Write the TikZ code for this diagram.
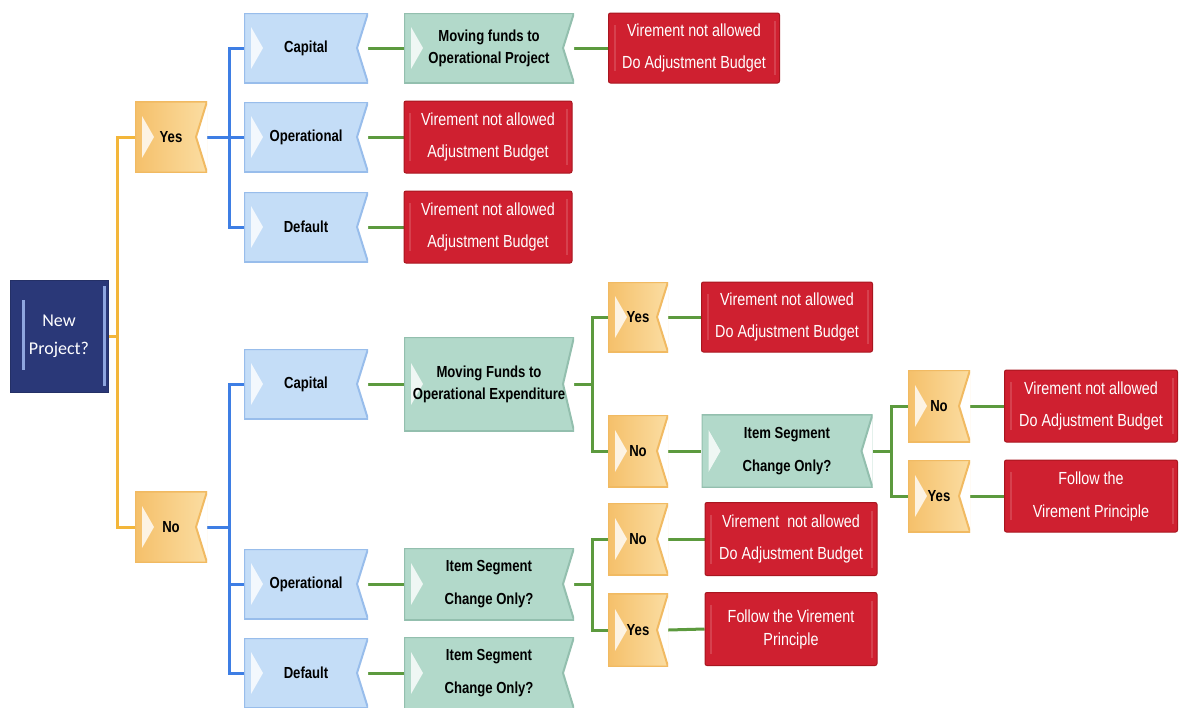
\documentclass[tikz,border=0pt]{standalone}
\usepackage{fontspec}
\setmainfont{Liberation Sans}
\newfontfamily\nf[FakeStretch=0.82]{Liberation Sans}
\newfontfamily\cf{Carlito}
\usetikzlibrary{calc,backgrounds}
\definecolor{navy}{HTML}{2A3878}
\definecolor{navyline}{HTML}{8EA6DF}
\definecolor{ofill}{HTML}{F8CB80}
\definecolor{ofillL}{HTML}{F5C06A}
\definecolor{ofillR}{HTML}{FBDDA2}
\definecolor{oline}{HTML}{F1BA62}
\definecolor{bfill}{HTML}{C4DDF7}
\definecolor{bline}{HTML}{98BDEB}
\definecolor{gfill}{HTML}{B2D9CA}
\definecolor{gline}{HTML}{93BFAE}
\definecolor{rfill}{HTML}{CF2030}
\definecolor{rline}{HTML}{A8161F}
\definecolor{cy}{HTML}{F3B63A}
\definecolor{cb}{HTML}{3E7EE4}
\definecolor{cg}{HTML}{5C9A3E}
\tikzset{
 tagshape/.style={rectangle, inner sep=0, align=center, text=black,
   font=\nf\bfseries\fontsize{16}{33}\selectfont,
   path picture={
     \fill[white] (path picture bounding box.north east) -- ([xshift=-11pt]path picture bounding box.east) -- (path picture bounding box.south east) -- cycle;
     \draw[tagline, line width=2] (path picture bounding box.north west) -- (path picture bounding box.north east) -- ([xshift=-11pt]path picture bounding box.east) -- (path picture bounding box.south east) -- (path picture bounding box.south west) -- cycle;
     \fill[white, opacity=.8] ([xshift=7pt,yshift=21pt]path picture bounding box.west) -- ([xshift=19pt]path picture bounding box.west) -- ([xshift=7pt,yshift=-21pt]path picture bounding box.west) -- cycle;
   }},
 otag/.style={tagshape, left color=ofillL, right color=ofillR, tagline/.style={draw=oline}, minimum width=62, minimum height=71},
 btag/.style={tagshape, fill=bfill, tagline/.style={draw=bline}, minimum width=124, minimum height=70},
 gtag/.style={tagshape, fill=gfill, tagline/.style={draw=gline}, minimum width=170, minimum height=72},
 lead/.style={font=\nf\bfseries\fontsize{16}{#1}\selectfont},
 redbox/.style={rectangle, rounded corners=2, fill=rfill, draw=rline, line width=1,
   text=white, align=center, inner sep=0, minimum width=171, minimum height=72,
   font=\nf\fontsize{17.5}{32}\selectfont,
   path picture={
     \draw[white, opacity=.15, line width=2] ([xshift=6pt,yshift=-12pt]path picture bounding box.north west) -- ([xshift=6pt,yshift=12pt]path picture bounding box.south west);
     \draw[white, opacity=.15, line width=2] ([xshift=-5pt,yshift=-8pt]path picture bounding box.north east) -- ([xshift=-5pt,yshift=8pt]path picture bounding box.south east);
   }},
 npbox/.style={rectangle, fill=navy, draw=navy!85!black, line width=1, minimum width=98,
   minimum height=112, text=white, align=center, inner sep=0,
   font=\cf\fontsize{18}{28}\selectfont,
   path picture={
     \draw[navyline, line width=3] ([xshift=13pt,yshift=-20pt]path picture bounding box.north west) -- ([xshift=13pt,yshift=22pt]path picture bounding box.south west);
     \draw[navyline, line width=3] ([xshift=-4pt,yshift=-6pt]path picture bounding box.north east) -- ([xshift=-4pt,yshift=6pt]path picture bounding box.south east);
   }},
 conn/.style={line width=3, line cap=butt},
}
\begin{document}
\begin{tikzpicture}[x=1pt,y=-1pt]
\useasboundingbox (0,0) rectangle (1186,707);
% root and first level
\node[npbox] (np) at (59,336) {New\\Project?};
\node[otag, minimum width=72] (y1) at (171,137) {Yes};
\node[otag, minimum width=72] (n1) at (171,527) {No};
% blue column
\node[btag] (b1) at (306,48) {Capital};
\node[btag] (b2) at (306,137) {Operational};
\node[btag] (b3) at (306,227) {Default};
\node[btag] (b4) at (306,384) {Capital};
\node[btag] (b5) at (306,584) {Operational};
\node[btag] (b6) at (306,673) {Default};
% green / red column
\node[gtag, minimum height=70, lead=22] (g1) at (489,48) {Moving funds to\\Operational Project};
\node[redbox, minimum width=168] (r1) at (488,137) {Virement not allowed\\Adjustment Budget};
\node[redbox, minimum width=168] (r2) at (488,227) {Virement not allowed\\Adjustment Budget};
\node[gtag, minimum height=94, lead=22] (g2) at (489,384) {Moving Funds to\\Operational Expenditure};
\node[gtag] (g3) at (489,584) {Item Segment\\Change Only?};
\node[gtag] (g4) at (489,673) {Item Segment\\Change Only?};
\node[redbox, minimum height=70] (r0) at (694,48) {Virement not allowed\\Do Adjustment Budget};
% third level
\node[otag, minimum width=60, minimum height=70] (o1) at (638,317) {Yes};
\node[otag, minimum width=60, minimum height=72] (o2) at (638,451) {No};
\node[otag, minimum width=60, minimum height=72] (o3) at (638,539) {No};
\node[otag, minimum width=60, minimum height=73] (o4) at (638,630) {Yes};
\node[redbox, minimum height=70] (r3) at (787,317) {Virement not allowed\\Do Adjustment Budget};
\node[gtag, minimum width=171, minimum height=73] (g5) at (787,451) {Item Segment\\Change Only?};
\node[redbox, minimum width=172, minimum height=73] (r4) at (791,539) {Virement\ \ not allowed\\Do Adjustment Budget};
\node[redbox, minimum width=172, minimum height=73, font=\nf\fontsize{17.5}{23}\selectfont] (r5) at (791,629) {Follow the Virement\\Principle};
% fourth level
\node[otag, minimum height=72] (o5) at (939,406) {No};
\node[otag, minimum height=72] (o6) at (939,496) {Yes};
\node[redbox, minimum width=173] (r6) at (1091,406) {Virement not allowed\\Do Adjustment Budget};
\node[redbox, minimum width=173, font=\nf\fontsize{17.5}{33}\selectfont] (r7) at (1091,496) {Follow the\\Virement Principle};
% junctions
\coordinate (ya) at (117,336);
\coordinate (bj1) at (229,137);
\coordinate (bj2) at (229,527);
\coordinate (gj1) at (592,384);
\coordinate (gj2) at (592,584);
\coordinate (gj3) at (891,451);
\begin{scope}[on background layer]
\draw[conn, cy] (np.east) -- (ya);
\draw[conn, cy] (y1.west) -| (ya) |- (n1.west);
\draw[conn, cb] (y1.east) -- (b2.west);
\draw[conn, cb] (b1.west) -| (bj1) |- (b3.west);
\draw[conn, cb] (n1.east) -- (bj2);
\draw[conn, cb] (b4.west) -| (bj2) |- (b6.west);
\draw[conn, cb] (bj2 |- b5.west) -- (b5.west);
\draw[conn, cg] (b1.east) -- (g1.west);
\draw[conn, cg] (g1.east) -- (r0.west);
\draw[conn, cg] (b2.east) -- (r1.west);
\draw[conn, cg] (b3.east) -- (r2.west);
\draw[conn, cg] (b4.east) -- (g2.west);
\draw[conn, cg] (b5.east) -- (g3.west);
\draw[conn, cg] (b6.east) -- (g4.west);
\draw[conn, cg] (g2.east) -- (gj1);
\draw[conn, cg] (o1.west) -| (gj1) |- (o2.west);
\draw[conn, cg] (o1.east) -- (r3.west);
\draw[conn, cg] (o2.east) -- (g5.west);
\draw[conn, cg] (g3.east) -- (gj2);
\draw[conn, cg] (o3.west) -| (gj2) |- (o4.west);
\draw[conn, cg] (o3.east) -- (r4.west);
\draw[conn, cg] (o4.east) -- (r5.west);
\draw[conn, cg] (g5.east) -- (gj3);
\draw[conn, cg] (o5.west) -| (gj3) |- (o6.west);
\draw[conn, cg] (o5.east) -- (r6.west);
\draw[conn, cg] (o6.east) -- (r7.west);
\end{scope}
\end{tikzpicture}
\end{document}
